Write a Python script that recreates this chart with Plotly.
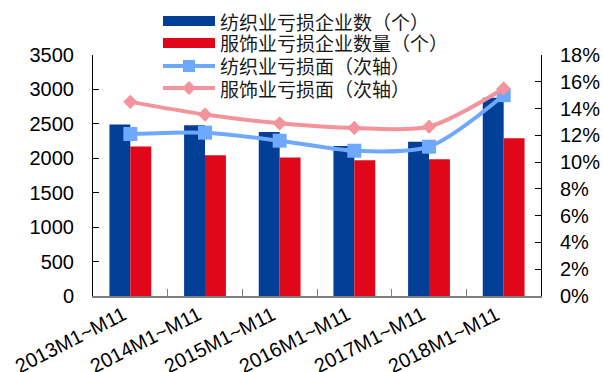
import plotly.graph_objects as go

# Loss-making enterprises in textile and apparel industries, Jan-Nov of each year
categories = ["2013M1~M11", "2014M1~M11", "2015M1~M11",
              "2016M1~M11", "2017M1~M11", "2018M1~M11"]
textile_loss_firms = [2490, 2480, 2380, 2180, 2240, 2880]
apparel_loss_firms = [2170, 2045, 2010, 1970, 1985, 2290]
textile_loss_ratio = [12.1, 12.2, 11.6, 10.85, 11.15, 15.0]
apparel_loss_ratio = [14.5, 13.55, 12.9, 12.55, 12.65, 15.5]

series_names = ["纺织业亏损企业数（个）", "服饰业亏损企业数量（个）",
                "纺织业亏损面（次轴）", "服饰业亏损面（次轴）"]

left_ticks = [0, 500, 1000, 1500, 2000, 2500, 3000, 3500]
right_ticks = [0, 2, 4, 6, 8, 10, 12, 14, 16, 18]
right_tick_labels = [f"{v}%" for v in right_ticks]

BLUE = "#023F97"
RED = "#E0071A"
LIGHT_BLUE = "#6FA8FF"
PINK = "#F4939B"

W, H = 603, 372
L, R, T, B = 93, 62, 55, 76
PW, PH = W - L - R, H - T - B


def px_x(px):
    return (px - L) / PW


def px_y(py):
    return (H - B - py) / PH


fig = go.Figure()
fig.add_trace(go.Bar(x=categories, y=textile_loss_firms, name=series_names[0],
                     marker=dict(color=BLUE, line=dict(width=0))))
fig.add_trace(go.Bar(x=categories, y=apparel_loss_firms, name=series_names[1],
                     marker=dict(color=RED, line=dict(width=0))))
fig.add_trace(go.Scatter(x=categories, y=textile_loss_ratio, name=series_names[2],
                         yaxis="y2", mode="lines+markers",
                         line=dict(color=LIGHT_BLUE, width=4, shape="spline", smoothing=0.8),
                         marker=dict(symbol="square", size=14, color=LIGHT_BLUE)))
fig.add_trace(go.Scatter(x=categories, y=apparel_loss_ratio, name=series_names[3],
                         yaxis="y2", mode="lines+markers",
                         line=dict(color=PINK, width=4, shape="spline", smoothing=0.8),
                         marker=dict(symbol="diamond", size=11, color=PINK)))

# Hand-built legend: wide colour swatches with labels at the top of the chart
shapes = []
annotations = []
rows_y = [21, 43, 66, 88]
sx0, sx1, scx = 163, 215, 189
styles = [("bar", BLUE), ("bar", RED), ("square", LIGHT_BLUE), ("diamond", PINK)]
for (kind, color), ry, name in zip(styles, rows_y, series_names):
    if kind == "bar":
        shapes.append(dict(type="rect", xref="paper", yref="paper",
                           x0=px_x(sx0), x1=px_x(sx1), y0=px_y(ry + 5), y1=px_y(ry - 5),
                           fillcolor=color, line=dict(width=0)))
    else:
        shapes.append(dict(type="line", xref="paper", yref="paper",
                           x0=px_x(sx0), x1=px_x(sx1), y0=px_y(ry), y1=px_y(ry),
                           line=dict(color=color, width=4)))
        if kind == "square":
            shapes.append(dict(type="rect", xref="paper", yref="paper",
                               x0=px_x(scx - 6), x1=px_x(scx + 6),
                               y0=px_y(ry + 6), y1=px_y(ry - 6),
                               fillcolor=color, line=dict(width=0)))
        else:
            pts = [(scx - 7, ry), (scx, ry - 7), (scx + 7, ry), (scx, ry + 7)]
            path = "M " + " L ".join(f"{px_x(a)},{px_y(b)}" for a, b in pts) + " Z"
            shapes.append(dict(type="path", xref="paper", yref="paper", path=path,
                               fillcolor=color, line=dict(width=0)))
    annotations.append(dict(xref="paper", yref="paper", x=px_x(219), y=px_y(ry),
                            xanchor="left", yanchor="middle", showarrow=False,
                            height=21, valign="middle", borderpad=0,
                            text=name,
                            font=dict(family="Noto Sans CJK SC", size=19, color="#1a1a1a")))

tick_font = dict(family="Liberation Sans, Arial", size=20, color="#000000")

# Slanted category labels, each ending just under its own category centre
for cat in categories:
    annotations.append(dict(xref="x", yref="paper", x=cat, y=px_y(340),
                            xanchor="center", yanchor="middle", xshift=-60,
                            showarrow=False, textangle=-27, text=cat,
                            borderpad=0, font=tick_font))

fig.update_layout(
    width=W, height=H,
    margin=dict(l=L, r=R, t=T, b=B, pad=0, autoexpand=False),
    paper_bgcolor="white", plot_bgcolor="white",
    showlegend=False,
    barmode="group", bargap=0.44, bargroupgap=0,
    shapes=shapes, annotations=annotations,
    xaxis=dict(type="category", range=[-0.5, len(categories) - 0.5],
               showgrid=False, showline=True, automargin=False,
               linecolor="#7F7F7F", linewidth=1.5, showticklabels=False,
               ticks="inside", ticklen=7, tickcolor="#7F7F7F", tickson="boundaries"),
    yaxis=dict(range=[0, 3500], tickvals=left_ticks, showgrid=False, zeroline=False,
               showline=True, linecolor="#000000", linewidth=1, automargin=False,
               ticks="inside", ticklen=6, tickcolor="#000000",
               tickfont=tick_font, ticklabelstandoff=14),
    yaxis2=dict(range=[0, 18], tickvals=right_ticks, ticktext=right_tick_labels,
                overlaying="y", side="right", showgrid=False, zeroline=False,
                showline=True, linecolor="#000000", linewidth=1, automargin=False,
                ticks="inside", ticklen=6, tickcolor="#000000",
                tickfont=tick_font, ticklabelstandoff=14),
)

fig.write_html("out.html")
